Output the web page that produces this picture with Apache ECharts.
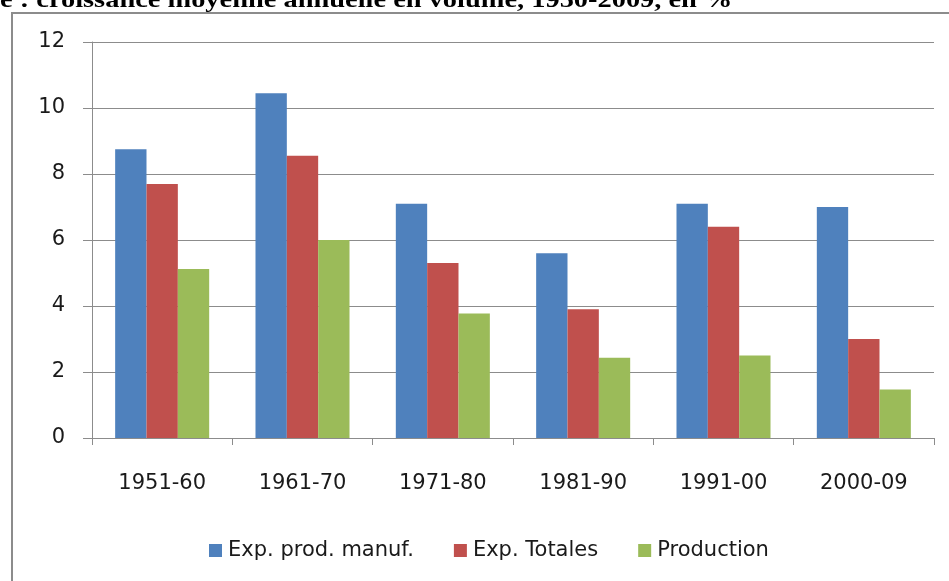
<!DOCTYPE html>
<html>
<head>
<meta charset="utf-8">
<script src="https://cdn.jsdelivr.net/npm/echarts@6/dist/echarts.min.js"></script>
<style>
  html, body { margin: 0; padding: 0; background: #fff; }
  #chart { width: 949px; height: 581px; }
</style>
</head>
<body>
<div id="chart"></div>
<script>
// périodes et taux de croissance (%)
let periodes = ['1951-60', '1961-70', '1971-80', '1981-90', '1991-00', '2000-09']
let expManuf = [8.75, 10.45, 7.1, 5.6, 7.1, 7.0]
let expTotales = [7.7, 8.55, 5.3, 3.9, 6.4, 3.0]
let production = [5.12, 6.0, 3.77, 2.43, 2.5, 1.47]
let seriesNames = ['Exp. prod. manuf.', 'Exp. Totales', 'Production']
let couleurs = ['#4F81BD', '#C0504D', '#9BBB59']

let labelFont = 'DejaVu Sans'
let gris = '#8c8c8c'

let chart = echarts.init(document.getElementById('chart'), null, { renderer: 'canvas' })

function barSerie(name, data, color) {
  return {
    name: name,
    type: 'bar',
    data: data,
    barGap: 0,
    barCategoryGap: '33%',
    itemStyle: { color: color },
    emphasis: { disabled: true }
  }
}

let option = {
  animation: false,
  color: couleurs,
  graphic: [
    {
      type: 'rect',
      shape: { x: 12, y: 13, width: 960, height: 620 },
      style: { fill: 'none', stroke: gris, lineWidth: 2 },
      silent: true
    },
    {
      type: 'text',
      x: 0,
      y: 13,
      scaleX: 1.235,
      style: {
        text: 'e : croissance moyenne annuelle en volume, 1950-2009, en %',
        font: 'bold 23px "Liberation Serif"',
        fill: '#000',
        verticalAlign: 'bottom'
      },
      silent: true
    }
  ],
  grid: { left: 92, right: 15, top: 42, bottom: 143 },
  legend: {
    data: seriesNames,
    left: 204,
    top: 535,
    itemWidth: 13,
    itemHeight: 13,
    itemGap: 40,
    icon: 'rect',
    selectedMode: false,
    textStyle: { fontFamily: labelFont, fontSize: 21, color: '#1a1a1a', padding: [0, 0, 0, 1] }
  },
  xAxis: {
    type: 'category',
    data: periodes,
    boundaryGap: true,
    axisLine: { lineStyle: { color: gris, width: 1 } },
    axisTick: { show: true, length: 7, lineStyle: { color: gris } },
    axisLabel: { fontFamily: labelFont, fontSize: 21, color: '#1a1a1a', margin: 35 }
  },
  yAxis: {
    type: 'value',
    min: 0,
    max: 12,
    interval: 2,
    axisLine: { show: true, lineStyle: { color: gris, width: 1 } },
    axisTick: { show: true, length: 9, lineStyle: { color: gris } },
    splitLine: { lineStyle: { color: gris, width: 1 } },
    axisLabel: { fontFamily: labelFont, fontSize: 21, color: '#1a1a1a', margin: 27 }
  },
  series: [
    barSerie(seriesNames[0], expManuf, couleurs[0]),
    barSerie(seriesNames[1], expTotales, couleurs[1]),
    barSerie(seriesNames[2], production, couleurs[2])
  ]
}

chart.setOption(option)
</script>
</body>
</html>
